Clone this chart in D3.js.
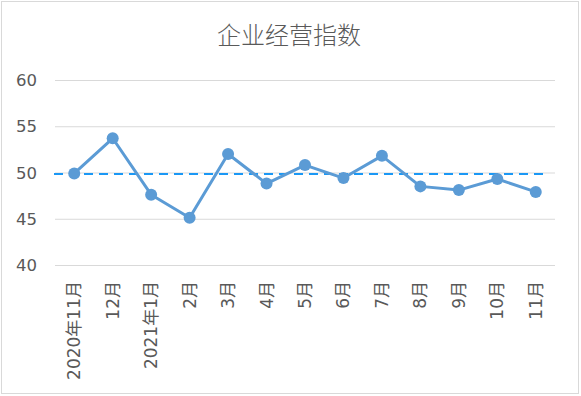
<!DOCTYPE html>
<html>
<head>
<meta charset="utf-8">
<script src="https://cdn.jsdelivr.net/npm/d3@7"></script>
<style>
body { margin: 0; background: #fff; }
text { font-family: "Noto Sans CJK SC", "Open Sans", sans-serif; fill: #595959; }
.lbl { font-family: "DejaVu Sans", "Noto Sans CJK SC", sans-serif; }
</style>
</head>
<body>
<div id="chart"></div>
<script>
var title = "企业经营指数";
var months = ["2020年11月", "12月", "2021年1月", "2月", "3月", "4月", "5月", "6月", "7月", "8月", "9月", "10月", "11月"];
var values = [49.9, 53.7, 47.6, 45.1, 52.0, 48.8, 50.8, 49.4, 51.8, 48.5, 48.1, 49.3, 47.9];
var baseline = 49.9;
var yTicks = [40, 45, 50, 55, 60];

var width = 581, height = 396;
var margin = {top: 80, right: 26, bottom: 131, left: 55};

var svg = d3.select("#chart")
	.append("svg")
	.attr("width", width)
	.attr("height", height)

svg.append("rect")
	.attr("x", 1.5).attr("y", 1.5)
	.attr("width", width - 4).attr("height", height - 4)
	.attr("fill", "#fff")
	.attr("stroke", "#d9d9d9")

svg.append("text")
	.attr("x", 289)
	.attr("y", 44)
	.attr("text-anchor", "middle")
	.style("font-size", "24px")
	.style("font-weight", 300)
	.text(title)

var x = d3.scaleBand()
	.domain(months)
	.range([margin.left, width - margin.right])

var y = d3.scaleLinear()
	.domain([40, 60])
	.range([height - margin.bottom, margin.top])

// gridlines
svg.append("g")
	.selectAll("line")
	.data(yTicks)
	.enter()
	.append("line")
	.attr("x1", margin.left)
	.attr("x2", width - margin.right)
	.attr("y1", function (d) { return y(d) + 0.5 })
	.attr("y2", function (d) { return y(d) + 0.5 })
	.attr("stroke", "#d9d9d9")
	.attr("stroke-width", 1)

// y labels
svg.append("g")
	.selectAll("text")
	.data(yTicks)
	.enter()
	.append("text")
	.attr("class", "lbl")
	.attr("x", 37)
	.attr("y", function (d) { return y(d) + 6 })
	.attr("text-anchor", "end")
	.style("font-size", "16.5px")
	.text(function (d) { return d })

// x labels
svg.append("g")
	.selectAll("text")
	.data(months)
	.enter()
	.append("text")
	.attr("class", "lbl")
	.attr("transform", function (d) {
		return "translate(" + (x(d) + x.bandwidth() / 2 + 6) + "," + 281 + ") rotate(-90)"
	})
	.attr("text-anchor", "end")
	.style("font-size", "17px")
	.text(function (d) { return d })

// reference line
svg.append("line")
	.attr("x1", margin.left - 1)
	.attr("x2", width - margin.right - 7)
	.attr("y1", y(baseline) + 0.5)
	.attr("y2", y(baseline) + 0.5)
	.attr("stroke", "#1b98f5")
	.attr("stroke-width", 2)
	.attr("stroke-dasharray", "9,6")

var line = d3.line()
	.x(function (d, i) { return x(months[i]) + x.bandwidth() / 2 })
	.y(function (d) { return y(d) })

svg.append("path")
	.datum(values)
	.attr("d", line)
	.attr("fill", "none")
	.attr("stroke", "#5b9bd5")
	.attr("stroke-width", 3)
	.attr("stroke-linejoin", "round")

svg.append("g")
	.selectAll("circle")
	.data(values)
	.enter()
	.append("circle")
	.attr("cx", function (d, i) { return x(months[i]) + x.bandwidth() / 2 })
	.attr("cy", function (d) { return y(d) })
	.attr("r", 6)
	.attr("fill", "#5b9bd5")
</script>
</body>
</html>
